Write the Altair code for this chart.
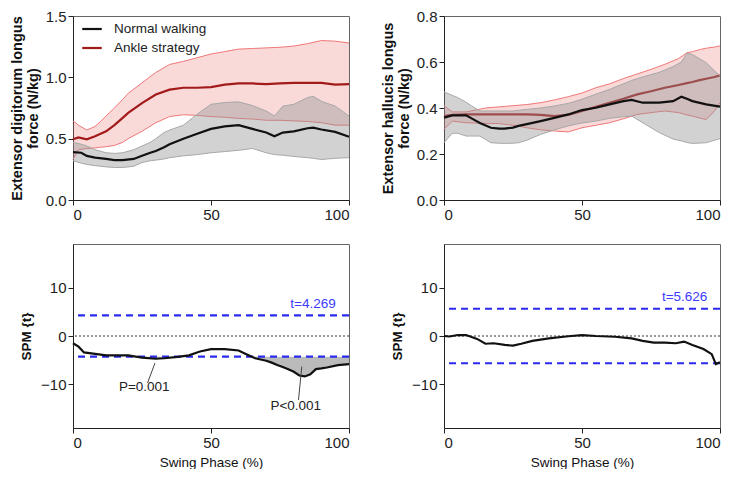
import altair as alt
import pandas as pd
import numpy as np

# ---------------- data ----------------
# Top-left: Extensor digitorum longus force (N/kg)
EDL_AS_X = [0, 2, 5, 8, 10, 12, 15, 18, 20, 25, 30, 35, 40, 45, 50, 55, 60, 65, 70, 75, 80, 85, 90, 95, 100]
EDL_AS_LO = [0.33, 0.41, 0.42, 0.425, 0.43, 0.435, 0.445, 0.47, 0.50, 0.56, 0.63, 0.68, 0.695, 0.69, 0.68,
             0.675, 0.665, 0.66, 0.65, 0.65, 0.645, 0.64, 0.63, 0.61, 0.61]
EDL_AS_HI = [0.645, 0.61, 0.57, 0.60, 0.64, 0.685, 0.75, 0.82, 0.87, 0.955, 1.04, 1.105, 1.13, 1.16, 1.19,
             1.21, 1.23, 1.235, 1.24, 1.245, 1.255, 1.275, 1.30, 1.295, 1.28]
EDL_AS_MEAN = [0.495, 0.51, 0.495, 0.52, 0.54, 0.56, 0.61, 0.67, 0.71, 0.79, 0.86, 0.90, 0.915, 0.915, 0.92,
               0.94, 0.95, 0.95, 0.945, 0.95, 0.955, 0.955, 0.955, 0.94, 0.945]

EDL_NW_X = [0, 3, 5, 8, 12, 15, 18, 22, 25, 28, 30, 33, 35, 40, 45, 50, 55, 60, 65, 70, 73, 76, 80, 85, 87, 90, 95, 100]
EDL_NW_HI = [0.47, 0.455, 0.44, 0.41, 0.385, 0.38, 0.385, 0.41, 0.44, 0.47, 0.50, 0.55, 0.57, 0.61, 0.70, 0.78,
             0.795, 0.80, 0.77, 0.725, 0.685, 0.765, 0.78, 0.835, 0.845, 0.805, 0.765, 0.685]
EDL_NW_LO = [0.32, 0.30, 0.29, 0.28, 0.27, 0.265, 0.265, 0.275, 0.305, 0.32, 0.325, 0.335, 0.345, 0.36, 0.37,
             0.385, 0.395, 0.405, 0.42, 0.385, 0.37, 0.365, 0.355, 0.345, 0.34, 0.33, 0.34, 0.345]
EDL_NW_MEAN = [0.39, 0.385, 0.36, 0.345, 0.335, 0.325, 0.325, 0.335, 0.36, 0.385, 0.40, 0.43, 0.455, 0.50, 0.54,
               0.58, 0.60, 0.61, 0.58, 0.55, 0.52, 0.55, 0.56, 0.585, 0.59, 0.575, 0.555, 0.515]

# Top-right: Extensor hallucis longus force (N/kg)
EHL_AS_X = [0, 3, 8, 15, 20, 25, 30, 35, 40, 45, 50, 55, 60, 65, 70, 75, 80, 85, 88, 90, 93, 95, 98, 100]
EHL_AS_HI = [0.41, 0.383, 0.383, 0.40, 0.405, 0.41, 0.415, 0.423, 0.435, 0.449, 0.465, 0.488, 0.505, 0.528,
             0.548, 0.568, 0.59, 0.615, 0.64, 0.645, 0.655, 0.66, 0.665, 0.67]
EHL_AS_LO = [0.307, 0.343, 0.336, 0.333, 0.332, 0.325, 0.314, 0.305, 0.30, 0.296, 0.314, 0.325, 0.336, 0.353,
             0.372, 0.38, 0.387, 0.38, 0.37, 0.365, 0.355, 0.35, 0.387, 0.423]
EHL_AS_MEAN = [0.365, 0.37, 0.372, 0.372, 0.372, 0.372, 0.372, 0.37, 0.365, 0.37, 0.387, 0.405, 0.423, 0.44,
               0.459, 0.473, 0.488, 0.50, 0.508, 0.513, 0.522, 0.527, 0.535, 0.542]

EHL_NW_X = [0, 3, 5, 8, 10, 13, 17, 20, 22, 25, 27, 30, 35, 40, 45, 50, 55, 60, 65, 68, 72, 78, 83, 86, 88, 90, 95, 100]
EHL_NW_HI = [0.47, 0.455, 0.445, 0.425, 0.409, 0.387, 0.387, 0.387, 0.387, 0.387, 0.39, 0.394, 0.40, 0.409,
             0.42, 0.438, 0.46, 0.481, 0.505, 0.52, 0.535, 0.555, 0.58, 0.60, 0.638, 0.633, 0.597, 0.539]
EHL_NW_LO = [0.249, 0.29, 0.29, 0.278, 0.278, 0.278, 0.249, 0.247, 0.246, 0.247, 0.249, 0.26, 0.285, 0.305,
             0.322, 0.335, 0.343, 0.355, 0.362, 0.365, 0.336, 0.293, 0.265, 0.257, 0.25, 0.246, 0.249, 0.267]
EHL_NW_MEAN = [0.358, 0.368, 0.368, 0.368, 0.355, 0.335, 0.314, 0.31, 0.31, 0.315, 0.322, 0.33, 0.343, 0.357,
               0.372, 0.391, 0.401, 0.416, 0.43, 0.435, 0.423, 0.423, 0.43, 0.449, 0.44, 0.43, 0.416, 0.406]

# Bottom-left: SPM {t} for EDL
SPM1_X = [0, 2, 4, 8, 12, 16, 20, 25, 30, 33, 38, 42, 46, 50, 55, 60, 63, 66, 70, 72, 74, 76, 78, 80, 82, 84,
          86, 88, 90, 92, 96, 100]
SPM1_T = [-1.5, -2.2, -3.4, -3.7, -4.0, -4.0, -4.0, -4.45, -4.7, -4.6, -4.3, -4.0, -3.2, -2.7, -2.7, -3.0,
          -3.8, -4.6, -5.1, -5.5, -6.0, -6.4, -6.85, -7.4, -8.15, -8.35, -7.9, -6.85, -6.7, -6.5, -6.0, -5.8]
SPM1_THRESH = 4.269

# Bottom-right: SPM {t} for EHL
SPM2_X = [0, 2, 5, 8, 12, 15, 18, 22, 25, 28, 32, 38, 45, 50, 55, 62, 68, 72, 76, 80, 84, 87, 90, 94, 97, 98.5, 100]
SPM2_T = [0.0, -0.1, 0.2, 0.2, -0.6, -1.6, -1.5, -1.85, -2.0, -1.6, -1.0, -0.5, -0.05, 0.2, 0.0, -0.15, -0.5,
          -1.0, -1.35, -1.35, -1.5, -1.15, -1.85, -2.7, -3.75, -5.8, -5.4]
SPM2_THRESH = 5.626

# Annotations (bottom-left)
ANN_TEXT = ["P=0.001", "P<0.001"]
ANN_TX = [25.8, 80.7]
ANN_TY = [-10.6, -14.5]
ANN_X1 = [27.0, 81.7]
ANN_Y1 = [-9.7, -13.2]
ANN_X2 = [29.7, 82.9]
ANN_Y2 = [-5.6, -6.3]

GROUPS = ["Normal walking", "Ankle strategy"]

FONT = "Liberation Sans"
W, H = 276, 184

xaxis_top = alt.Axis(values=[0, 50, 100], title=None, tickSize=5)
xaxis_bot = alt.Axis(values=[0, 50, 100], title="Swing Phase (%)", titleFontWeight="normal",
                     titleFontSize=13.5, tickSize=5, titlePadding=5)
xscale = alt.Scale(domain=[0, 100], nice=False, zero=False)

color_scale = alt.Scale(domain=GROUPS, range=["#111111", "#a31a1a"])


def force_panel(as_x, as_lo, as_hi, as_mean, nw_x, nw_lo, nw_hi, nw_mean, ydom, yvals, ytitle, legend):
    d_as = pd.DataFrame({"x": as_x, "lo": as_lo, "hi": as_hi, "mean": as_mean, "g": GROUPS[1]})
    d_nw = pd.DataFrame({"x": nw_x, "lo": nw_lo, "hi": nw_hi, "mean": nw_mean, "g": GROUPS[0]})
    ysc = alt.Scale(domain=ydom, nice=False)
    yax = alt.Axis(values=yvals, format=".1f", title=ytitle, tickSize=5, titlePadding=5,
                   titleFontSize=14.5, titleLineHeight=16)
    X = alt.X("x:Q", scale=xscale, axis=xaxis_top)

    def band(d, fill, edge, op):
        a = alt.Chart(d).mark_area(color=fill, opacity=op).encode(
            x=X, y=alt.Y("lo:Q", scale=ysc, axis=yax), y2="hi:Q")
        l1 = alt.Chart(d).mark_line(color=edge, strokeWidth=1).encode(x=X, y=alt.Y("lo:Q", scale=ysc))
        l2 = alt.Chart(d).mark_line(color=edge, strokeWidth=1).encode(x=X, y=alt.Y("hi:Q", scale=ysc))
        return [a, l1, l2]

    if legend:
        leg = alt.Legend(title=None, orient="none", legendX=8, legendY=2, symbolType="stroke",
                         symbolStrokeWidth=2.2, symbolSize=380, labelFontSize=13.5, labelFont=FONT,
                         labelColor="#222", labelOffset=11, rowPadding=1)
    else:
        leg = None

    def mean_line(d):
        enc = dict(x=X, y=alt.Y("mean:Q", scale=ysc))
        if leg is not None:
            enc["color"] = alt.Color("g:N", scale=color_scale, legend=leg)
        else:
            enc["color"] = alt.Color("g:N", scale=color_scale, legend=None)
        return alt.Chart(d).mark_line(strokeWidth=2.2).encode(**enc)

    layers = band(d_as, "#f08080", "#f07878", 0.3) + [mean_line(d_as)] + \
        band(d_nw, "#949494", "#a8a8a8", 0.42) + [mean_line(d_nw)]
    return alt.layer(*layers).properties(width=W, height=H)


def spm_panel(xs, ts, thr, label_x, label_y, ann=False):
    d = pd.DataFrame({"x": xs, "t": ts})
    d["fill_lo"] = np.minimum(d["t"], -thr)
    d["thr"] = -thr
    ysc = alt.Scale(domain=[-19, 19], nice=False)
    yax = alt.Axis(values=[-10, 0, 10], title="SPM {t}", tickSize=5, titlePadding=7, titleFontSize=13.5)
    X = alt.X("x:Q", scale=xscale, axis=xaxis_bot)
    fill = alt.Chart(d).mark_area(color="#bbbbbb", opacity=1, interpolate="linear").encode(
        x=X, y=alt.Y("fill_lo:Q", scale=ysc, axis=yax), y2="thr:Q")
    lines = pd.DataFrame({"y": [thr, -thr]})
    dash = alt.Chart(lines).mark_rule(color="#2b2bf0", strokeWidth=2.2, strokeDash=[7, 5]).encode(
        y=alt.Y("y:Q", scale=ysc))
    zero = alt.Chart(pd.DataFrame({"y": [0]})).mark_rule(color="#333333", strokeWidth=1,
                                                         strokeDash=[2, 2]).encode(y=alt.Y("y:Q", scale=ysc))
    curve = alt.Chart(d).mark_line(color="#111111", strokeWidth=2.2).encode(
        x=X, y=alt.Y("t:Q", scale=ysc))
    tlab = alt.Chart(pd.DataFrame({"x": [label_x], "y": [label_y], "s": [f"t={thr:.3f}"]})).mark_text(
        color="#3b3bff", fontSize=13.5, font=FONT, align="right").encode(
        x=alt.X("x:Q", scale=xscale), y=alt.Y("y:Q", scale=ysc), text="s:N")
    layers = [fill, zero, dash, curve, tlab]
    if ann:
        da = pd.DataFrame({"s": ANN_TEXT, "tx": ANN_TX, "ty": ANN_TY, "x1": ANN_X1, "y1": ANN_Y1,
                           "x2": ANN_X2, "y2": ANN_Y2})
        ptr = alt.Chart(da).mark_rule(color="#444444", strokeWidth=1).encode(
            x=alt.X("x1:Q", scale=xscale), y=alt.Y("y1:Q", scale=ysc), x2="x2:Q", y2="y2:Q")
        txt = alt.Chart(da).mark_text(color="#222222", fontSize=13.5, font=FONT).encode(
            x=alt.X("tx:Q", scale=xscale), y=alt.Y("ty:Q", scale=ysc), text="s:N")
        layers += [ptr, txt]
    return alt.layer(*layers).properties(width=W, height=H)


tl = force_panel(EDL_AS_X, EDL_AS_LO, EDL_AS_HI, EDL_AS_MEAN, EDL_NW_X, EDL_NW_LO, EDL_NW_HI, EDL_NW_MEAN,
                 [0, 1.5], [0, 0.5, 1.0, 1.5], ["Extensor digitorum longus", "force (N/kg)"], True)
tr = force_panel(EHL_AS_X, EHL_AS_LO, EHL_AS_HI, EHL_AS_MEAN, EHL_NW_X, EHL_NW_LO, EHL_NW_HI, EHL_NW_MEAN,
                 [0, 0.8], [0, 0.2, 0.4, 0.6, 0.8], ["Extensor hallucis longus", "force (N/kg)"], False)
bl = spm_panel(SPM1_X, SPM1_T, SPM1_THRESH, 95.2, 6.7, ann=True)
br = spm_panel(SPM2_X, SPM2_T, SPM2_THRESH, 95.4, 8.1)

chart = alt.concat(tl, tr, bl, br, columns=2, spacing={"row": 20, "column": 25}).resolve_scale(
    color="independent").properties(
    padding={"left": 0, "top": 0, "right": 0, "bottom": 0}
).configure_view(stroke="#666666", strokeWidth=1).configure_axis(
    grid=False, labelFont=FONT, titleFont=FONT, labelFontSize=15, titleFontSize=14,
    labelColor="#222222", titleColor="#111111", domainColor="#222222", tickColor="#222222",
    titleFontWeight="bold", labelPadding=2
)

chart.save("out.html", embed_options={"renderer": "svg", "actions": False})
